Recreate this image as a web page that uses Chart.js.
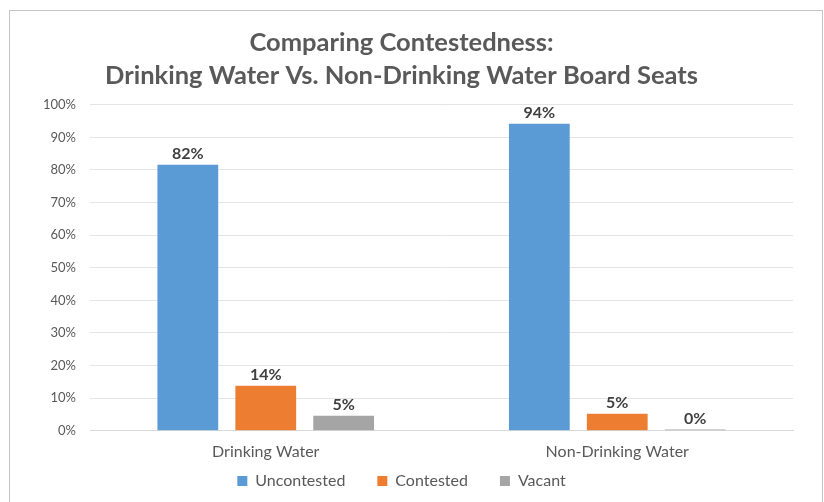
<!DOCTYPE html>
<html>
<head>
<meta charset="utf-8">
<title>Comparing Contestedness</title>
<script src="https://cdn.jsdelivr.net/npm/chart.js@4"></script>
<style>
    html, body { margin: 0; padding: 0; background: #fff; overflow: hidden; }
    #frame {
        position: absolute; left: 9px; top: 10px;
        width: 812px; height: 510px;
        border: 1px solid #c4c4c4;
    }
    #wrap { position: absolute; left: 0; top: 0; width: 824px; height: 502px; }
</style>
</head>
<body>
<div id="frame"></div>
<div id="wrap"><canvas id="chart"></canvas></div>
<script>
// Data
const categories = ['Drinking Water', 'Non-Drinking Water'];
const uncontested = [0.816, 0.942];
const contested = [0.138, 0.052];
const vacant = [0.046, 0.004];
const yTicks = [0, 0.1, 0.2, 0.3, 0.4, 0.5, 0.6, 0.7, 0.8, 0.9, 1.0];

const FONT = 'Lato, "Open Sans", sans-serif';
const TEXT = '#595959';

// Percent labels above each bar
const barLabels = {
    id: 'barLabels',
    afterDatasetsDraw(chart) {
        const ctx = chart.ctx;
        ctx.save();
        ctx.font = 'bold 16px ' + FONT;
        ctx.fillStyle = '#404040';
        ctx.textAlign = 'center';
        ctx.textBaseline = 'bottom';
        chart.data.datasets.forEach((ds, i) => {
            chart.getDatasetMeta(i).data.forEach((bar, j) => {
                ctx.fillText(Math.round(ds.data[j] * 100) + '%', bar.x, bar.y - 3);
            });
        });
        ctx.restore();
    }
};

// Keep the wide gaps between legend items but pull the row up tight
const LEGEND_H = 30;
const LEGEND_SHIFT = 31;
const tightLegend = {
    id: 'tightLegend',
    beforeLayout(chart) {
        const legend = chart.legend;
        if (!legend || legend._tight) return;
        legend._tight = true;
        const fit = legend.fit;
        legend.fit = function () {
            fit.call(this);
            this.height = LEGEND_H;
        };
        const draw = legend.draw;
        legend.draw = function () {
            const top = this.top;
            this.top = top - LEGEND_SHIFT;
            draw.call(this);
            this.top = top;
        };
    }
};

new Chart(document.getElementById('chart'), {
    type: 'bar',
    data: {
        labels: categories,
        datasets: [
            { label: 'Uncontested', data: uncontested, backgroundColor: '#5B9BD5' },
            { label: 'Contested', data: contested, backgroundColor: '#ED7D31' },
            { label: 'Vacant', data: vacant, backgroundColor: '#A5A5A5' }
        ]
    },
    options: {
        responsive: true,
        maintainAspectRatio: false,
        animation: false,
        categoryPercentage: 0.665,
        barPercentage: 0.78,
        layout: { padding: { left: 10, right: 31, top: 10, bottom: 0 } },
        plugins: {
            title: {
                display: true,
                text: ['Comparing Contestedness:', 'Drinking Water Vs. Non-Drinking Water Board Seats'],
                color: TEXT,
                font: { family: FONT, size: 25.5, weight: 'bold', lineHeight: 1.29 },
                padding: { top: 16.5, bottom: 12.5 }
            },
            legend: {
                position: 'bottom',
                labels: {
                    color: TEXT,
                    font: { family: FONT, size: 16 },
                    boxWidth: 10,
                    boxHeight: 10,
                    padding: 32
                }
            },
            tooltip: { enabled: false }
        },
        scales: {
            x: {
                grid: { display: false, drawTicks: false },
                border: { color: '#d9d9d9' },
                ticks: { color: TEXT, font: { family: FONT, size: 16 }, padding: 11 }
            },
            y: {
                min: 0,
                max: 1,
                afterBuildTicks(scale) {
                    scale.ticks = yTicks.map(v => ({ value: v }));
                },
                afterFit(scale) { scale.width = 80; },
                grid: { color: '#e4e4e4', drawTicks: false },
                border: { display: false },
                ticks: {
                    color: TEXT,
                    font: { family: FONT, size: 13 },
                    padding: 14,
                    callback: v => Math.round(v * 100) + '%'
                }
            }
        }
    },
    plugins: [barLabels, tightLegend]
});
</script>
</body>
</html>
